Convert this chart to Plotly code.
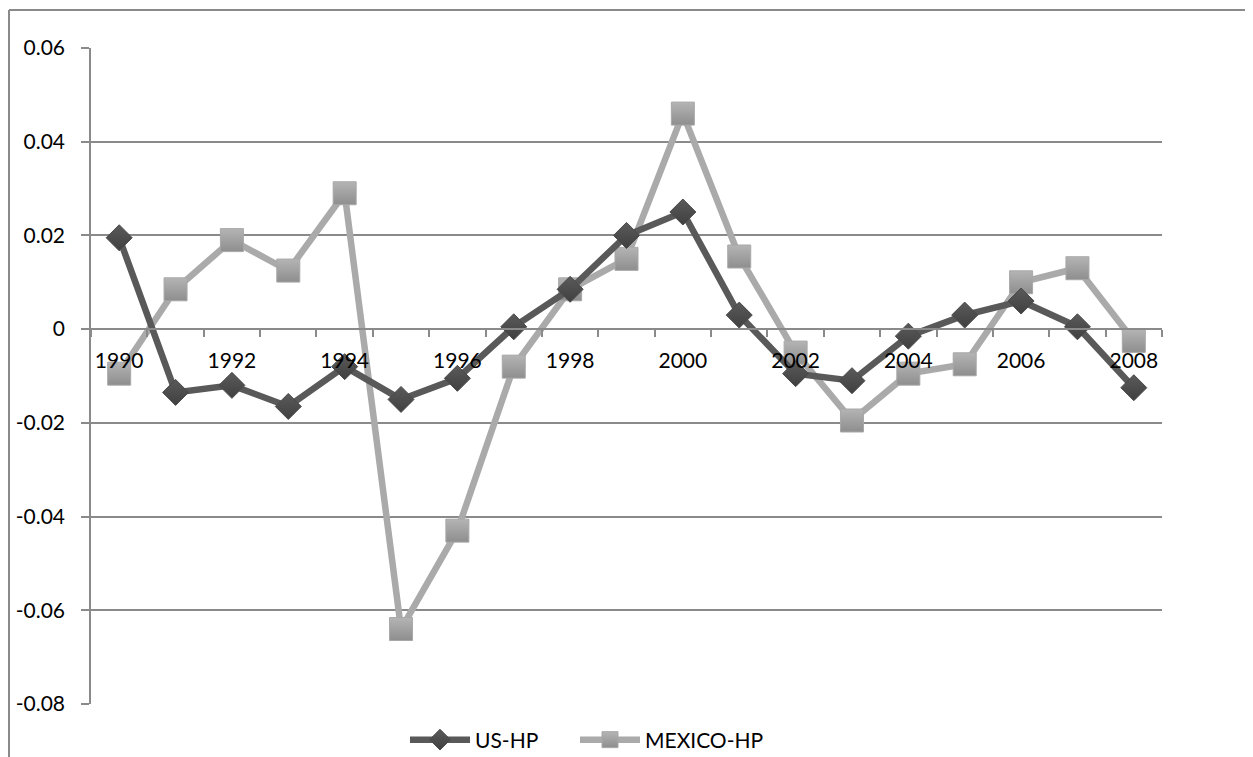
"""US vs Mexico HP-filtered cycle chart."""

import plotly.graph_objects as go

years = list(range(1990, 2009))
us_hp = [0.0195, -0.0135, -0.012, -0.0165, -0.008, -0.015, -0.0105, 0.0005, 0.0085, 0.020,
         0.025, 0.003, -0.0095, -0.011, -0.0015, 0.003, 0.006, 0.0005, -0.0125]
mexico_hp = [-0.0095, 0.0085, 0.019, 0.0125, 0.029, -0.064, -0.043, -0.008, 0.0085, 0.015,
             0.046, 0.0155, -0.005, -0.0195, -0.0095, -0.0075, 0.010, 0.013, -0.0025]
y_ticks = [-0.08, -0.06, -0.04, -0.02, 0, 0.02, 0.04, 0.06]
y_labels = ["-0.08", "-0.06", "-0.04", "-0.02", "0", "0.02", "0.04", "0.06"]
x_ticks = years[::2]

FONT = "Lato, 'Open Sans', sans-serif"
GRID = "#8a8a8a"
# the page body adds an 8px offset, so margins are measured from there
W, H = 1245, 749
L, R, T, B = 83, 91, 40, 53
PW, PH = W - L - R, H - T - B

fig = go.Figure()
fig.add_trace(go.Scatter(
    x=years, y=mexico_hp, name="MEXICO-HP", mode="lines+markers", legend="legend2",
    line=dict(color="#aaaaaa", width=6.5),
    marker=dict(symbol="square", size=23, color="#b4b4b4",
                gradient=dict(type="vertical", color="#8e8e8e"),
                line=dict(color="#a8a8a8", width=1)),
))
fig.add_trace(go.Scatter(
    x=years, y=us_hp, name="US-HP", mode="lines+markers", legend="legend",
    line=dict(color="#595959", width=6.5),
    marker=dict(symbol="diamond", size=20, color="#5a5a5a",
                gradient=dict(type="vertical", color="#404040"),
                line=dict(color="#4a4a4a", width=1)),
))

y_min, y_max = -0.08, 0.06
zero_pos = (0 - y_min) / (y_max - y_min)
legend_style = dict(orientation="h", xanchor="left", y=-36 / PH, yanchor="middle",
                    font=dict(size=21), itemwidth=60, bgcolor="rgba(0,0,0,0)")

fig.update_layout(
    width=W, height=H,
    margin=dict(l=L, r=R, t=T, b=B, autoexpand=False),
    paper_bgcolor="white", plot_bgcolor="white",
    font=dict(family=FONT, size=21, color="black"),
    showlegend=True,
    legend=dict(x=(397 - L) / PW, **legend_style),
    legend2=dict(x=(567 - L) / PW, **legend_style),
    xaxis=dict(
        range=[1989.5, 2008.5], tickvals=x_ticks, ticks="", showgrid=False,
        anchor="free", position=zero_pos, showline=True, linecolor=GRID, linewidth=1.5,
        ticklabelstandoff=13, zeroline=False,
        minor=dict(tick0=1989.5, dtick=1, ticks="outside", ticklen=7,
                   tickcolor=GRID, tickwidth=1.5, showgrid=False),
    ),
    yaxis=dict(
        range=[y_min, y_max], tickvals=y_ticks, ticktext=y_labels,
        showgrid=True, gridcolor=GRID, gridwidth=1.5, zeroline=False,
        showline=True, linecolor=GRID, linewidth=1.5,
        ticks="outside", ticklen=8, tickcolor=GRID, tickwidth=1.5,
        ticklabelstandoff=12,
    ),
)

# outer chart frame (left and top edges visible in the original)
frame_x = (1 - L) / PW
frame_y = 1 + (T - 2) / PH
fig.add_shape(type="line", xref="paper", yref="paper",
              x0=frame_x, x1=1.2, y0=frame_y, y1=frame_y,
              line=dict(color="#8a8a8a", width=2))
fig.add_shape(type="line", xref="paper", yref="paper",
              x0=frame_x, x1=frame_x, y0=-0.2, y1=frame_y,
              line=dict(color="#8a8a8a", width=2))

fig.write_html("out.html")
